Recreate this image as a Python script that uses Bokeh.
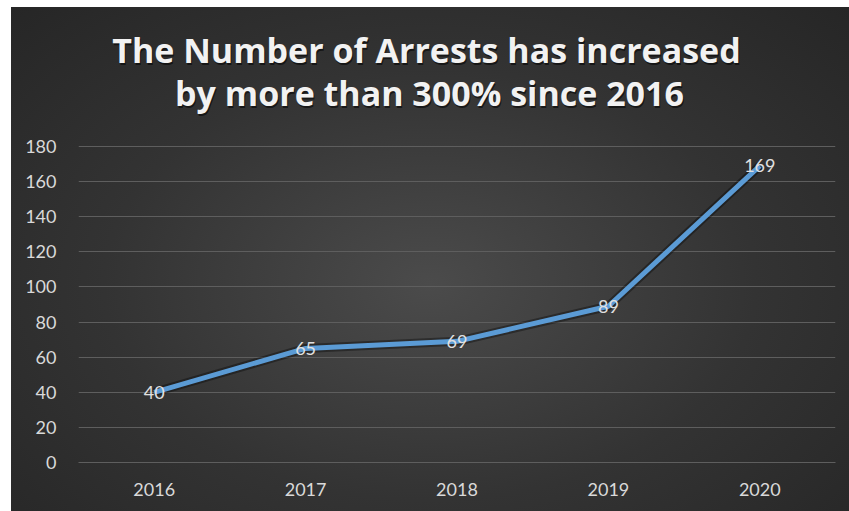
from bokeh.plotting import figure
from bokeh.models import ColumnDataSource, Label, FactorRange, FixedTicker, Range1d
from bokeh.core.properties import value
from bokeh.embed import file_html
from bokeh.resources import INLINE

years = ["2016", "2017", "2018", "2019", "2020"]
arrests = [40, 65, 69, 89, 169]
labels = [str(v) for v in arrests]
y_ticks = [0, 20, 40, 60, 80, 100, 120, 140, 160, 180]
title_lines = ["The Number of Arrests has increased", "by more than 300% since 2016"]

src = ColumnDataSource(dict(x=years, y=arrests, lab=labels))

# plot area spans the full height so the two-line title can sit inside it (above the 180 gridline)
FRAME_H = 455
Y_PX_TOP_GRID = 316
y_end = max(y_ticks) * FRAME_H / Y_PX_TOP_GRID

p = figure(width=838, height=504, x_range=FactorRange(*years, range_padding=0),
           y_range=Range1d(0, y_end), output_backend="svg", toolbar_location=None,
           min_border_left=67, min_border_right=14, min_border_top=0, min_border_bottom=49)
p.border_fill_alpha = 0
p.background_fill_alpha = 0
p.outline_line_color = None
p.styles = {"background": "radial-gradient(ellipse at 50% 55%, #4b4b4b 0%, #333333 55%, #262626 100%)",
            "margin-left": "11px", "margin-top": "7px"}

grid_col = "#5e5e5e"
p.xgrid.grid_line_color = None
p.ygrid.grid_line_color = grid_col
p.ygrid.grid_line_width = 1
p.yaxis.ticker = FixedTicker(ticks=y_ticks)
p.yaxis.axis_line_color = None
p.xaxis.axis_line_color = grid_col
for ax in (p.xaxis, p.yaxis):
    ax.major_tick_line_color = None
    ax.minor_tick_line_color = None
    ax.major_label_text_color = "#d9d9d9"
    ax.major_label_text_font = "Lato"
    ax.major_label_text_font_size = "18px"
p.yaxis.major_label_standoff = 16
p.xaxis.major_label_standoff = 14

p.line("x", "y", source=src, line_color="black", line_alpha=0.35, line_width=9)
p.line("x", "y", source=src, line_color="#5b9bd5", line_width=5)
p.text("x", "y", text="lab", source=src, text_align="center", text_baseline="middle",
       text_color="#e0e0e0", text_font=value("Lato"), text_font_size="18px")

# title lines, screen units relative to the plot frame (y up from its bottom)
for t, xc, yb in zip(title_lines, [348, 351], [413, 370]):
    p.add_layout(Label(x=xc + 1, y=yb - 2, x_units="screen", y_units="screen", text=t,
                       text_align="center", text_baseline="alphabetic", text_color="black",
                       text_alpha=0.55, text_font="Open Sans", text_font_style="bold",
                       text_font_size="34px"))
    p.add_layout(Label(x=xc, y=yb, x_units="screen", y_units="screen", text=t,
                       text_align="center", text_baseline="alphabetic", text_color="#f2f2f2",
                       text_font="Open Sans", text_font_style="bold", text_font_size="34px"))

open("out.html", "w").write(file_html(p, INLINE))
